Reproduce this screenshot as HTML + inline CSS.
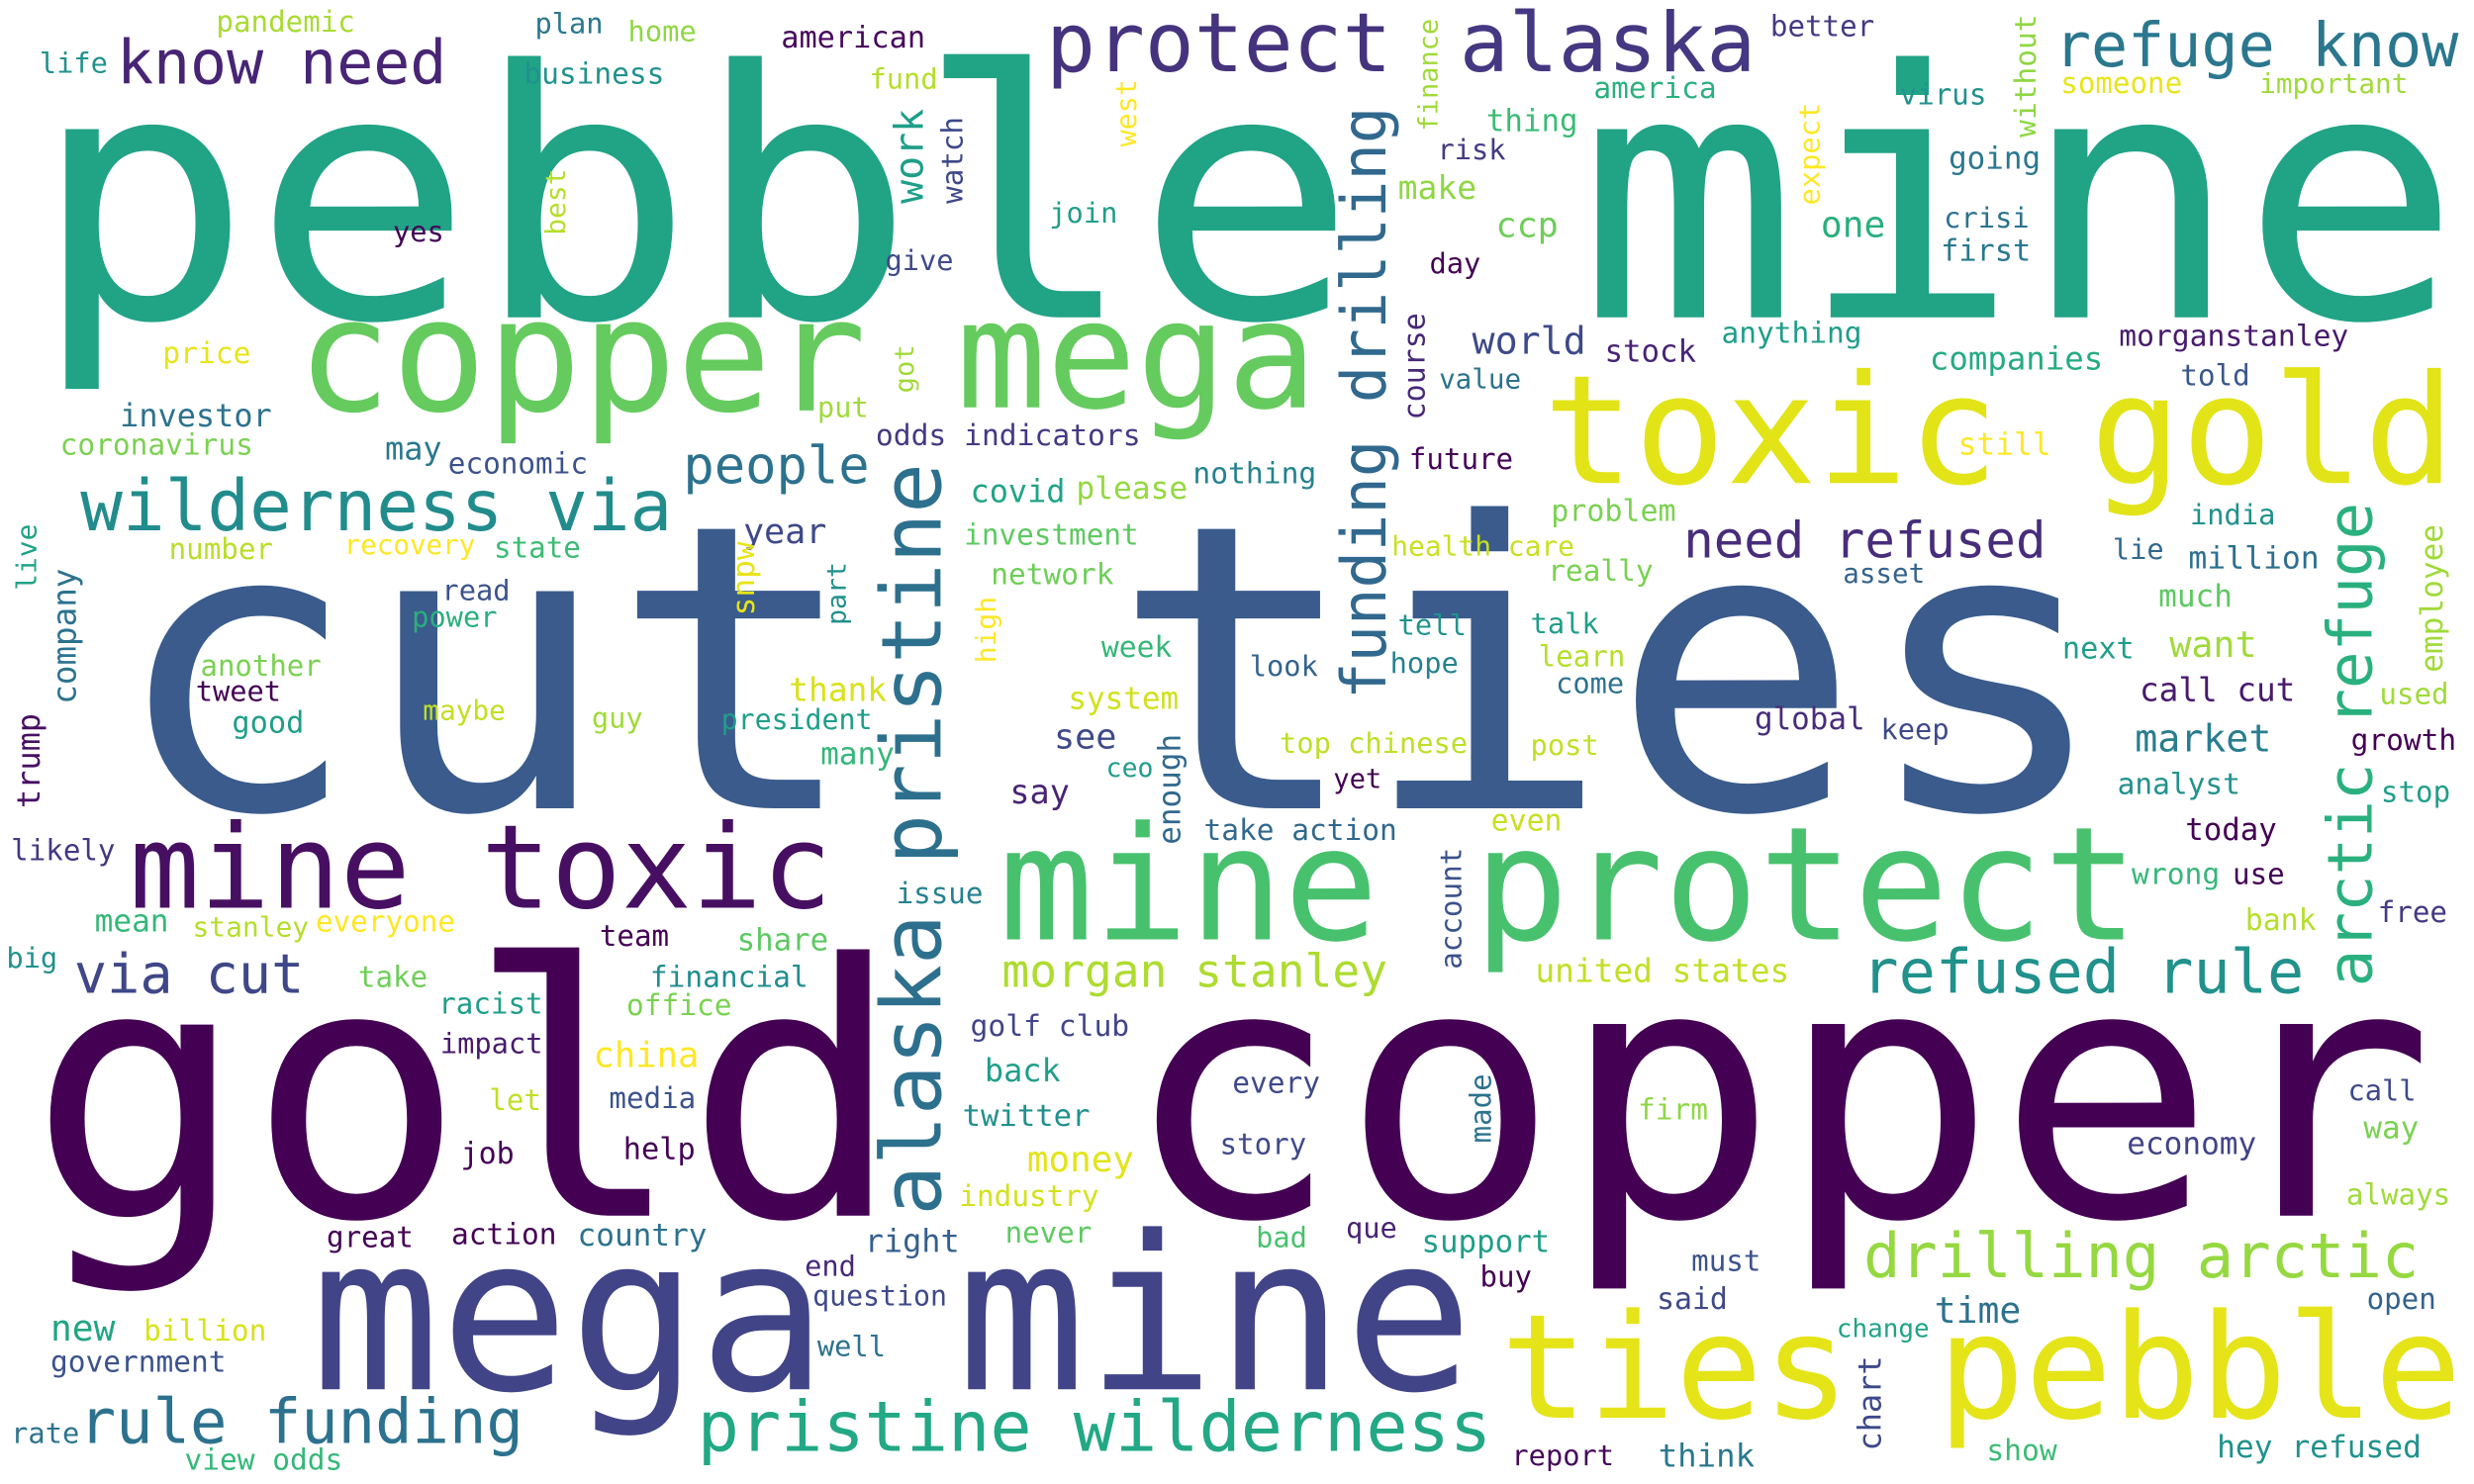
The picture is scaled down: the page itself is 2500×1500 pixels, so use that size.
<!DOCTYPE html>
<html><head><meta charset="utf-8"><style>
html,body{margin:0;padding:0;background:#fff;}
svg{display:block;}
text{font-family:"DejaVu Sans Mono","Liberation Mono",monospace;}
</style></head><body>
<svg id="cloud" width="2500" height="1500" viewBox="0 0 1568 940" preserveAspectRatio="none" xmlns="http://www.w3.org/2000/svg">
<rect x="0" y="0" width="1568" height="940" fill="#ffffff"/>
</svg>
<script>
// [word, x, baselineY, fontSize, color, rotated, forcedWidth]
const words = [
["pebble mine",20,201,218,"#21a386",0,1540],
["cut ties",70,512,252,"#3a5b8c",0,1268],
["gold copper",18,770,222,"#440154",0,1525],
["mega mine",197,880,136,"#414487",0],
["ties pebble",951,898,92,"#e5e419",0],
["toxic gold",978,306,96,"#e2e418",0],
["mine protect",633,595,100,"#48c16e",0],
["copper",188,260,100,"#65cb5e",0],
["mega",606,258,95,"#65cb5e",0],
["mine toxic",82,575,74,"#470f62",0],
["protect",663,45,52,"#46337e",0],
["alaska",925,45,52,"#453781",0],
["know need",74,53,38.6,"#482475",0],
["refuge know",1302,42,38.7,"#2a778e",0],
["wilderness via",51,336,44.5,"#228c8d",0],
["pristine wilderness",442,919,44,"#22a884",0],
["rule funding",50,914,39,"#2c718e",0],
["drilling arctic",1181,809,39,"#95d840",0],
["refused rule",1180,629,38.8,"#21918c",0],
["need refused",1067,353,31.8,"#472d7b",0],
["via cut",47,629,34.6,"#3f4788",0],
["people",433,306,32.7,"#2c728e",0],
["morgan stanley",635,625,29,"#addc30",0],
["funding drilling",878,443,39,"#31688e",1],
["alaska pristine",596,770,52.8,"#2d708e",1],
["arctic refuge",1503,625,39.2,"#2ab07f",1],
["pandemic",137,20,18.3,"#a8db34",0],
["plan",339,21,18,"#2a788e",0],
["home",398,26,18,"#8fd744",0],
["life",25,46,18,"#21918c",0],
["business",332,53,18.5,"#20928c",0],
["american",495,30,19,"#46085c",0],
["best",358,149,17.5,"#b5de2b",1],
["yes",249,153,18,"#440154",0],
["price",103,230,18.6,"#e8e419",0],
["investor",76,270,20,"#2c728e",0],
["coronavirus",38,288,18.5,"#7ad151",0],
["may",244,291,20,"#2a788e",0],
["economic",284,300,18.4,"#3b528b",0],
["year",471,344,22,"#3e4989",0],
["live",23,374,17.5,"#20a386",1],
["number",107,354,18.3,"#b8de29",0],
["recovery",218,351,17.3,"#fde725",0],
["state",313,353,18.3,"#3cbb75",0],
["company",48,446,20.4,"#2c728e",1],
["read",280,380,18,"#3b528b",0],
["power",261,397,18,"#29af7f",0],
["snpw",478,390,19.5,"#e8e419",1],
["another",127,428,18.2,"#7ad151",0],
["tweet",124,444,18,"#440154",0],
["good",147,464,19,"#1f9e89",0],
["maybe",268,456,17.4,"#c2df23",0],
["guy",375,461,18,"#a0da39",0],
["thank",500,444,20.6,"#d8e219",0],
["president",457,462,17.7,"#1f9e89",0],
["trump",25,512,20,"#471063",1],
["fund",551,56,18,"#b5de2b",0],
["finance",911,83,16.9,"#a0da39",1],
["west",720,93,17.8,"#fde725",1],
["work",585,129,25,"#1f9e89",1],
["watch",610,129,18.3,"#3e4989",1],
["join",665,141,18,"#1f9e89",0],
["give",561,171,18,"#3e4989",0],
["thing",942,83,19.3,"#3cbb75",0],
["risk",911,101,18,"#443a83",0],
["make",886,126,20.7,"#8fd744",0],
["ccp",948,150,22,"#6ece58",0],
["day",906,173,18,"#440154",0],
["got",579,249,17,"#a0da39",1],
["course",903,266,18.8,"#482878",1],
["world",933,224,24,"#3e4989",0],
["value",912,246,17.3,"#2c728e",0],
["put",518,264,18,"#a0da39",0],
["odds indicators",555,282,18.6,"#443983",0],
["covid",615,318,20,"#20a386",0],
["please",682,316,19.6,"#95d840",0],
["nothing",756,306,18.6,"#26828e",0],
["future",893,297,18.3,"#450457",0],
["investment",611,345,18.4,"#5ec962",0],
["network",628,370,18.5,"#6ece58",0],
["part",536,396,16.6,"#21918c",1],
["high",631,420,17.5,"#fde725",1],
["problem",983,330,18.8,"#7ad151",0],
["health care",882,352,17.5,"#c8e020",0],
["really",981,368,18.5,"#7ad151",0],
["tell",886,402,18,"#20938c",0],
["talk",970,401,18,"#1f9e89",0],
["week",698,416,18.6,"#35b779",0],
["look",792,428,18,"#33638d",0],
["hope",881,426,18,"#26828e",0],
["learn",975,422,18.3,"#b5de2b",0],
["come",986,439,18,"#2c728e",0],
["system",677,449,19.4,"#d0e11c",0],
["see",668,474,22,"#3e4989",0],
["top chinese",811,477,18,"#bddf26",0],
["ceo",701,492,16.6,"#1f9e89",0],
["enough",748,535,19.4,"#31688e",1],
["say",640,509,21,"#482475",0],
["yet",845,499,17,"#440154",0],
["post",970,478,18,"#c2df23",0],
["many",520,484,19.5,"#35b779",0],
["take action",763,532,18.5,"#31688e",0],
["even",945,526,18.7,"#c8e020",0],
["issue",568,572,18.3,"#26828e",0],
["account",926,614,18.3,"#3b528b",1],
["united states",973,622,20.6,"#c2df23",0],
["golf club",615,656,18.6,"#414487",0],
["back",624,685,20,"#1f9e89",0],
["every",781,692,18.5,"#3e4989",0],
["made",945,724,18.2,"#2c728e",1],
["twitter",610,713,19.2,"#21908d",0],
["story",773,731,18.3,"#3e4989",0],
["money",651,742,22.5,"#e2e418",0],
["industry",608,764,18.4,"#d2e21b",0],
["firm",1038,709,18.5,"#8fd744",0],
["right",548,793,20,"#35608d",0],
["never",637,787,18.3,"#5ec962",0],
["bad",796,790,18,"#48c16e",0],
["que",853,784,18,"#482475",0],
["support",901,793,19.3,"#1f9e89",0],
["buy",938,815,18.2,"#440154",0],
["end",510,808,18,"#482878",0],
["question",515,827,17.7,"#3e4989",0],
["well",518,859,18,"#2c728e",0],
["report",958,928,18,"#46085c",0],
["better",1122,23,18.3,"#443a83",0],
["america",1010,62,18.5,"#2ab07f",0],
["virus",1204,66,18.3,"#21918c",0],
["without",1290,87,18.5,"#8fd744",1],
["someone",1306,59,18.3,"#e8e419",0],
["important",1432,59,17.4,"#a0da39",0],
["expect",1153,130,18,"#fde725",1],
["going",1235,107,19.4,"#2a788e",0],
["one",1154,150,22.7,"#29af7f",0],
["crisi",1232,144,18,"#2c728e",0],
["first",1230,165,19,"#2a788e",0],
["anything",1091,217,18.5,"#1f9e89",0],
["stock",1017,229,19.3,"#482475",0],
["companies",1223,234,20.3,"#25ab82",0],
["morganstanley",1343,219,18.6,"#481a6c",0],
["told",1382,244,18.3,"#39568c",0],
["still",1241,288,19.6,"#fde725",0],
["india",1388,332,18,"#21918c",0],
["lie",1339,354,18,"#31688e",0],
["million",1387,360,19.7,"#2d708e",0],
["asset",1168,369,17.3,"#33638d",0],
["employee",1548,426,19.5,"#a0da39",1],
["much",1368,384,19.5,"#5ec962",0],
["next",1307,417,19,"#1f9e89",0],
["want",1375,416,23,"#a0da39",0],
["used",1508,446,18.3,"#a0da39",0],
["call cut",1356,444,20.5,"#481a6c",0],
["global",1112,462,19.4,"#472d7b",0],
["keep",1192,468,18,"#3e4989",0],
["market",1353,476,24,"#287d8e",0],
["growth",1490,475,18.5,"#440154",0],
["analyst",1342,503,18.5,"#21918c",0],
["stop",1509,508,18.3,"#1f9e89",0],
["today",1385,532,19.3,"#440154",0],
["wrong",1351,560,18.6,"#35b779",0],
["use",1415,560,18.3,"#440154",0],
["bank",1423,589,18.7,"#b5de2b",0],
["free",1507,584,18.3,"#443983",0],
["call",1488,697,18,"#3e4989",0],
["way",1498,721,19.4,"#7ad151",0],
["economy",1348,731,19.5,"#414487",0],
["always",1487,763,18.3,"#a0da39",0],
["must",1072,805,18.3,"#3b528b",0],
["said",1050,829,18.7,"#3e4989",0],
["open",1500,829,18.3,"#33638d",0],
["time",1226,838,22.8,"#2c728e",0],
["change",1164,847,16.3,"#20a386",0],
["chart",1192,919,20,"#3e4989",1],
["think",1051,929,20.3,"#2a788e",0],
["show",1259,925,18.6,"#3cbb75",0],
["hey refused",1405,923,19.6,"#20928c",0],
["likely",7,545,18.3,"#453781",0],
["mean",60,590,19.5,"#35b779",0],
["stanley",122,593,17.5,"#b5de2b",0],
["everyone",200,590,18.4,"#fde725",0],
["team",380,599,18.3,"#440154",0],
["share",467,602,19.3,"#5ec962",0],
["big",4,613,18,"#21918c",0],
["take",227,625,18.3,"#6ece58",0],
["financial",412,625,18.5,"#228c8d",0],
["racist",278,642,18.3,"#1f9e89",0],
["office",397,643,18.5,"#7ad151",0],
["impact",279,667,18,"#481a6c",0],
["china",376,676,22.3,"#fde725",0],
["let",310,703,18.3,"#c2df23",0],
["media",386,702,18.3,"#3b528b",0],
["job",292,737,18.8,"#440154",0],
["help",395,734,19,"#440154",0],
["great",207,790,18.3,"#440154",0],
["action",286,788,18.5,"#440154",0],
["country",366,789,19.5,"#2c718e",0],
["new",32,849,22.7,"#21a585",0],
["billion",91,849,18.5,"#d8e219",0],
["government",32,869,18.5,"#3b528b",0],
["rate",7,914,18,"#2c728e",0],
["view odds",117,931,18.5,"#35b779",0]
];
const svg = document.getElementById('cloud');
const NS = 'http://www.w3.org/2000/svg';
for (const w of words) {
  const el = document.createElementNS(NS, 'text');
  
  
  el.setAttribute('font-size', w[3]);
  el.setAttribute('fill', w[4]);
  if (w[6]) {
    el.setAttribute('textLength', w[6]);
    el.setAttribute('lengthAdjust', 'spacingAndGlyphs');
  }
  if (w[5]) {
    el.setAttribute('transform', 'translate(' + w[1] + ',' + w[2] + ') rotate(-90)');
    el.setAttribute('x', 0);
    el.setAttribute('y', 0);
  } else {
    el.setAttribute('x', w[1]);
    el.setAttribute('y', w[2]);
  }
  el.textContent = w[0];
  svg.appendChild(el);
}
</script>
</body></html>
